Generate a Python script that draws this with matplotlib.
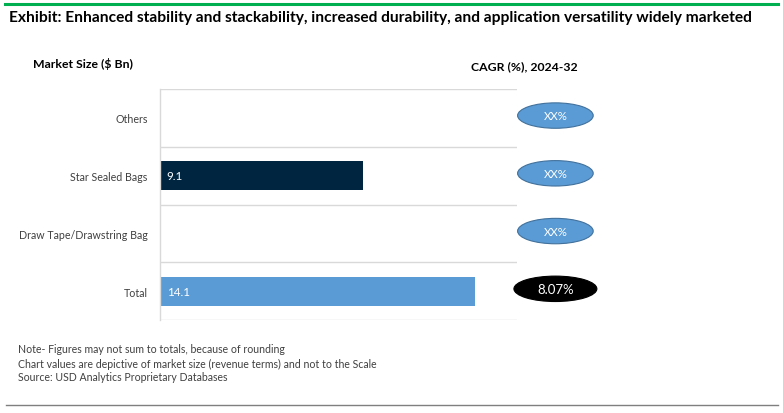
import matplotlib
matplotlib.use("Agg")
import matplotlib.pyplot as plt
from matplotlib.patches import Ellipse
from matplotlib.lines import Line2D

categories = ["Others", "Star Sealed Bags", "Draw Tape/Drawstring Bag", "Total"]
market_size = [0, 9.1, 0, 14.1]
bar_labels = ["", "9.1", "", "14.1"]
cagr_labels = ["XX%", "XX%", "XX%", "8.07%"]
title = "Exhibit: Enhanced stability and stackability, increased durability, and application versatility widely marketed"
notes = ["Note- Figures may not sum to totals, because of rounding",
         "Chart values are depictive of market size (revenue terms) and not to the Scale",
         "Source: USD Analytics Proprietary Databases"]

FONT = ["Lato", "DejaVu Sans"]
plt.rcParams['font.family'] = FONT

W, H = 783, 414
fig = plt.figure(figsize=(W / 100, H / 100), dpi=100)

def fx(px):
    return px / W

def fy(py):
    return 1 - py / H

# top green line and bottom gray line
fig.add_artist(Line2D([fx(5), fx(778)], [fy(5), fy(5)], color="#00B050", lw=2.2))
fig.add_artist(Line2D([fx(6), fx(778)], [fy(406), fy(406)], color="#7F7F7F", lw=1.0))

fig.text(fx(9), fy(18), title, fontsize=11.2, fontweight="bold", va="center", ha="left", color="#000000")
fig.text(fx(33), fy(64), "Market Size ($ Bn)", fontsize=8.8, fontweight="bold", va="center", ha="left")
fig.text(fx(471), fy(67), "CAGR (%), 2024-32", fontsize=8.8, fontweight="bold", va="center", ha="left")

for i, t in enumerate(notes):
    fig.text(fx(18), fy(350 + i * 14), t, fontsize=7.6, va="center", ha="left", color="#404040")

# main bar axes
left, right, top, bottom = 160, 517, 90, 321
ax = fig.add_axes([fx(left), fy(bottom), fx(right - left), (bottom - top) / H])
colors = ["#5B9BD5", "#002541", "#5B9BD5", "#5B9BD5"]
ypos = list(range(len(categories)))
ax.barh(ypos, market_size, height=0.5, color=colors, align="center")
ax.set_xlim(0, 16)
ax.set_ylim(len(categories) - 0.5, -0.5)
for y, lab in zip(ypos, bar_labels):
    if lab:
        ax.text(0.3, y, lab, color="white", fontsize=8.4, va="center", ha="left")
for b in [i - 0.5 for i in range(len(categories) + 1)]:
    ax.axhline(b, color="#D9D9D9", lw=1.0, zorder=0)
for s in ["top", "right", "bottom"]:
    ax.spines[s].set_visible(False)
ax.spines["left"].set_color("#D9D9D9")
ax.spines["left"].set_linewidth(1.0)
ax.set_xticks([])
ax.set_yticks(ypos)
ax.set_yticklabels(categories, fontsize=7.7, color="#404040")
ax.tick_params(axis="y", length=0, pad=9)

# CAGR ellipses axes
ax2 = fig.add_axes([fx(505), fy(bottom), fx(105), (bottom - top) / H])
ax2.set_xlim(0, 1)
ax2.set_ylim(len(categories) - 0.5, -0.5)
ax2.axis("off")
for y, lab in zip(ypos, cagr_labels):
    is_total = lab == cagr_labels[-1]
    fc = "#000000" if is_total else "#5B9BD5"
    ec = "#000000" if is_total else "#41719C"
    w = 0.79 if is_total else 0.72
    e = Ellipse((0.48, y - 0.04), width=w, height=0.44, facecolor=fc, edgecolor=ec, lw=0.8)
    ax2.add_patch(e)
    ax2.text(0.48, y - 0.04, lab, color="white", fontsize=9.5 if is_total else 8.2, ha="center", va="center")

fig.savefig("out.png", dpi=100)
